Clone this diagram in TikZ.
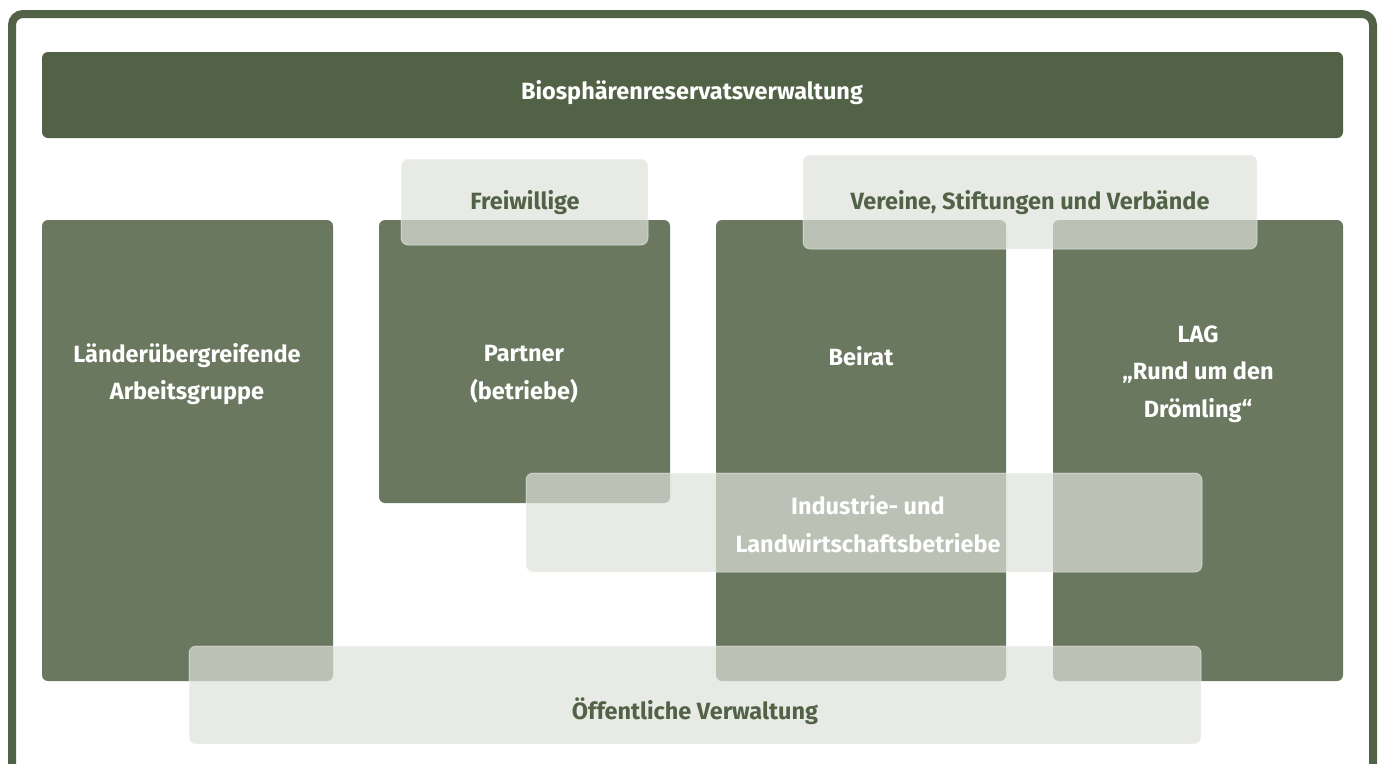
\documentclass[tikz,border=0pt]{standalone}
\usepackage{fontspec}
\setmainfont{Fira Sans}
\definecolor{bargreen}{HTML}{526246}
\definecolor{boxgreen}{HTML}{6B7860}
\definecolor{veil}{HTML}{DEE1DA}

\tikzset{
  darkbox/.style={fill=boxgreen, rounded corners=6pt},
  lightbox/.style={fill=veil, fill opacity=0.7, draw=white, draw opacity=0.4, line width=1pt, rounded corners=7pt},
  whitetext/.style={text=white, font=\fontsize{23.5}{37.5}\selectfont\bfseries, align=center},
  greentext/.style={text=bargreen, font=\fontsize{23.5}{37.5}\selectfont\bfseries, align=center}
}

\begin{document}
\begin{tikzpicture}[x=1pt,y=-1pt,line join=round]

\useasboundingbox (0,0) rectangle (1380,763);
\clip (0,0) rectangle (1380,763);

% frame
\draw[bargreen, line width=8pt, rounded corners=11pt] (12,800) -- (12,14) -- (1373,14) -- (1373,800);

% top bar
\fill[bargreen, rounded corners=6pt] (42,52) rectangle (1343,138);

% dark boxes
\fill[darkbox] (42,220) rectangle (333,681);
\fill[darkbox] (379,220) rectangle (670,503);
\fill[darkbox] (716,220) rectangle (1006,681);
\fill[darkbox] (1053,220) rectangle (1343,681);

% light boxes
\path[lightbox] (401,159) rectangle (648,245);
\path[lightbox] (803,155) rectangle (1257,249);
\path[lightbox] (526,473) rectangle (1202,572);
\path[lightbox] (189,646) rectangle (1201,744);

% labels
\node[whitetext] (verwaltung) at (692,93) {Biosphärenreservatsverwaltung};
\node[greentext] (freiwillige) at (525,203) {Freiwillige};
\node[greentext] (vereine) at (1030,203) {Vereine, Stiftungen und Verbände};
\node[whitetext] (arbeitsgruppe) at (187,374) {Länderübergreifende\\Arbeitsgruppe};
\node[whitetext] (partner) at (524,374) {Partner\\(betriebe)};
\node[whitetext] (beirat) at (861,356) {Beirat};
\node[whitetext] (lag) at (1198,374) {LAG\\„Rund um den\\Drömling“};
\node[whitetext] (industrie) at (868,524) {Industrie- und\\Landwirtschaftsbetriebe};
\node[greentext] (oeffentlich) at (695,711) {Öffentliche Verwaltung};

\end{tikzpicture}
\end{document}
